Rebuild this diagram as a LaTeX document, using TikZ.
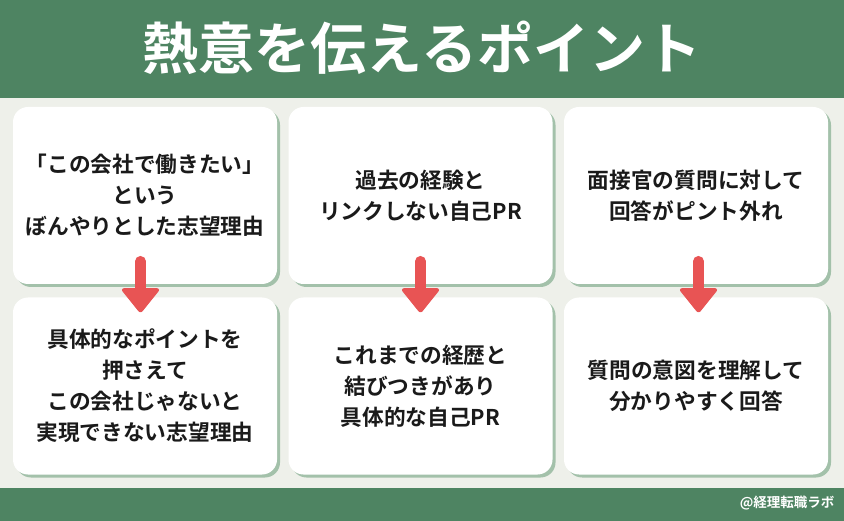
\documentclass[tikz,border=0pt]{standalone}
\usepackage{fontspec}
\usepackage{xcolor}
\usetikzlibrary{shadows}
\newfontfamily\jpfont{Noto Sans CJK JP}[BoldFont={Noto Sans CJK JP Bold}]
\definecolor{bandgreen}{HTML}{4E8462}
\definecolor{paper}{HTML}{EEF0EA}
\definecolor{shadegreen}{HTML}{A3C1AA}
\definecolor{arrowred}{HTML}{E85454}
\definecolor{inkblack}{HTML}{1A1A1A}
\tikzset{
  card/.style     = {fill=white, rounded corners=15pt, minimum width=264pt,
                     minimum height=177pt, inner sep=0pt, align=center,
                     text=inkblack, font=\jpfont\bfseries\fontsize{21.7}{31}\selectfont,
                     drop shadow={shadow xshift=3pt, shadow yshift=-3pt,
                                  fill=shadegreen, opacity=1}},
  downshaft/.style = {draw=arrowred, line width=10.5pt, line cap=round},
  downhead/.style  = {fill=arrowred, draw=arrowred, line width=2pt,
                      line join=round, rounded corners=2pt}
}

\begin{document}
\begin{tikzpicture}[x=1pt,y=-1pt]
  \useasboundingbox (0,0) rectangle (844,521);
  % --- background and bands
  \fill[paper] (0,0) rectangle (844,521);
  \fill[bandgreen] (0,0) rectangle (844,98);
  \fill[bandgreen] (0,488) rectangle (844,521);
  \node[text=white, font=\jpfont\bfseries\fontsize{56}{60}\selectfont]
       (title) at (422,48) {熱意を伝えるポイント};
  \node[text=white, anchor=east, font=\jpfont\bfseries\fontsize{13.5}{16}\selectfont]
       (credit) at (838,503) {@経理転職ラボ};
  % --- top row: weak answers
  \node[card] (weak1) at (145,195.5) {「この会社で働きたい」\\という\\ぼんやりとした志望理由};
  \node[card] (weak2) at (420.5,195.5) {過去の経験と\\リンクしない自己PR};
  \node[card] (weak3) at (696,195.5) {面接官の質問に対して\\回答がピント外れ};
  % --- bottom row: better answers
  \node[card] (good1) at (145,386) {具体的なポイントを\\押さえて\\この会社じゃないと\\実現できない志望理由};
  \node[card] (good2) at (420.5,386) {これまでの経歴と\\結びつきがあり\\具体的な自己PR};
  \node[card] (good3) at (696,386) {質問の意図を理解して\\分かりやすく回答};
  % --- arrows from weak to good
  \foreach \from/\shift in {weak1/-4.5, weak2/0, weak3/2.5} {
    \draw[downshaft] ([xshift=\shift pt, yshift=23pt]\from.south)
                  -- ([xshift=\shift pt, yshift=-8pt]\from.south);
    \filldraw[downhead] ([xshift=\shift pt-18.5pt, yshift=-5pt]\from.south)
                     -- ([xshift=\shift pt+18.5pt, yshift=-5pt]\from.south)
                     -- ([xshift=\shift pt, yshift=-28pt]\from.south) -- cycle;
  }
\end{tikzpicture}
\end{document}
